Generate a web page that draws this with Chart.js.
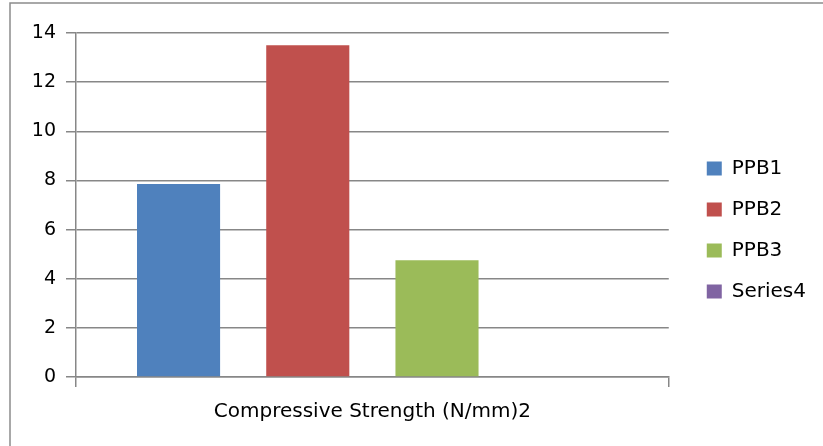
<!DOCTYPE html>
<html>
<head>
<meta charset="utf-8">
<title>Compressive Strength</title>
<script src="https://cdn.jsdelivr.net/npm/chart.js@4"></script>
<style>
  html, body { margin: 0; padding: 0; background: #ffffff; }
  #wrap { width: 823px; height: 446px; }
</style>
</head>
<body>
<div id="wrap"><canvas id="chart" width="823" height="446"></canvas></div>
<script>
// Category and series data
const categories = ['Compressive Strength (N/mm)2'];
const seriesNames = ['PPB1', 'PPB2', 'PPB3', 'Series4'];
const ppb1 = [7.85];
const ppb2 = [13.5];
const ppb3 = [4.75];
const series4 = [null];
const seriesColors = ['#4F81BD', '#C0504D', '#9BBB59', '#8064A2'];
const yTicks = [0, 2, 4, 6, 8, 10, 12, 14];

const seriesValues = [ppb1, ppb2, ppb3, series4];
const FONT = 'DejaVu Sans';
const GRID = '#878787';

// Thin frame along the top and left edges of the chart
const framePlugin = {
  id: 'frame',
  beforeDraw(chart) {
    const ctx = chart.ctx;
    ctx.save();
    ctx.strokeStyle = '#8c8c8c';
    ctx.lineWidth = 1.5;
    ctx.beginPath();
    ctx.moveTo(10, chart.height);
    ctx.lineTo(10, 3);
    ctx.lineTo(chart.width, 3);
    ctx.stroke();
    ctx.restore();
  }
};

new Chart(document.getElementById('chart'), {
  type: 'bar',
  data: {
    labels: categories,
    datasets: seriesNames.map((name, i) => ({
      label: name,
      data: seriesValues[i],
      backgroundColor: seriesColors[i],
      borderWidth: 0,
      categoryPercentage: 0.872,
      barPercentage: 0.643
    }))
  },
  options: {
    responsive: false,
    animation: false,
    layout: { padding: { top: 33, left: 0, right: 7, bottom: 19 } },
    plugins: {
      title: { display: false },
      tooltip: { enabled: false },
      legend: {
        position: 'right',
        align: 'center',
        labels: {
          boxWidth: 15,
          boxHeight: 14,
          padding: 21,
          color: '#000000',
          font: { family: FONT, size: 20 }
        }
      }
    },
    scales: {
      x: {
        offset: true,
        grid: {
          display: true,
          drawOnChartArea: false,
          drawTicks: true,
          tickLength: 10,
          color: GRID,
          lineWidth: 1.5
        },
        border: { display: true, color: GRID, width: 1.5 },
        ticks: {
          color: '#000000',
          padding: 13,
          maxRotation: 0,
          font: { family: FONT, size: 20 }
        },
        afterFit(scale) { scale.height = 50; }
      },
      y: {
        min: 0,
        max: 14,
        afterBuildTicks(scale) { scale.ticks = yTicks.map(v => ({ value: v })); },
        grid: {
          color: GRID,
          lineWidth: 1.5,
          drawTicks: true,
          tickLength: 10
        },
        border: { display: true, color: GRID, width: 1.5 },
        ticks: {
          color: '#000000',
          padding: 10,
          font: { family: FONT, size: 19 }
        },
        afterFit(scale) { scale.width = 76; }
      },
      gap: {
        type: 'linear',
        position: 'right',
        display: true,
        grid: { display: false, drawTicks: false },
        border: { display: false },
        ticks: { display: false },
        afterFit(scale) { scale.width = 17; }
      }
    }
  },
  plugins: [framePlugin]
});
</script>
</body>
</html>
